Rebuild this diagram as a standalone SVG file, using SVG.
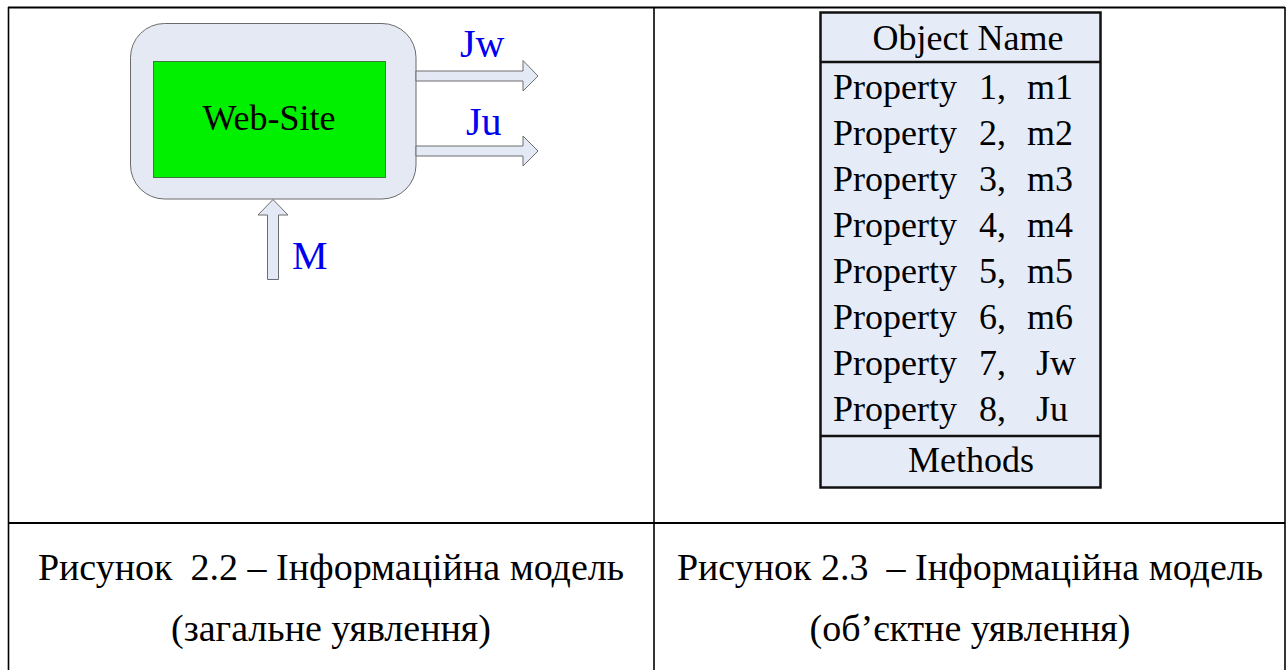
<svg xmlns="http://www.w3.org/2000/svg" width="1288" height="670" viewBox="0 0 1288 670">
<style>
.grid{stroke:#000;fill:none}
.t{font-family:"Liberation Serif","Times New Roman",serif}
.blue{fill:#0000f0;font-size:40px}
.prop{font-size:36px;fill:#000}
.cap{font-size:38px;fill:#000;text-anchor:middle}
.arrow{fill:#e4eaf5;stroke:#6d6d6d;stroke-width:1}
</style>
<rect width="1288" height="670" fill="#fff"/>
<g id="table">
<line class="grid" x1="8" y1="7.5" x2="1285" y2="7.5" stroke-width="2"/>
<line class="grid" x1="8.5" y1="7" x2="8.5" y2="670" stroke-width="1.6"/>
<line class="grid" x1="654" y1="7" x2="654" y2="670" stroke-width="1.6"/>
<line class="grid" x1="1285" y1="7" x2="1285" y2="670" stroke-width="1.6"/>
<line class="grid" x1="8" y1="523" x2="1285" y2="523" stroke-width="2"/>
</g>
<g id="website">
<rect x="130.5" y="23.5" width="285.5" height="175.5" rx="34" ry="34" fill="#e4e9f4" stroke="#6b6b6b" stroke-width="1"/>
<rect x="153.5" y="61.5" width="232" height="116" fill="#00f000" stroke="#3d7a3d" stroke-width="1"/>
<text class="t" x="269" y="130" font-size="36" text-anchor="middle" fill="#000">Web-Site</text>
</g>
<g id="connectors">
<polygon class="arrow" points="416,71 523,71 523,60.5 538,76 523,91 523,81 416,81"/>
<polygon class="arrow" points="416,146 523,146 523,136 538,151 523,166 523,156 416,156"/>
<polygon class="arrow" points="267.5,279.5 267.5,215 258,215 273,199.5 288,215 278.5,215 278.5,279.5"/>
</g>
<g id="labels">
<text class="t blue" x="460" y="57">Jw</text>
<text class="t blue" x="466" y="135">Ju</text>
<text class="t blue" x="292" y="269">M</text>
</g>
<g id="object">
<rect x="820.5" y="12.5" width="280" height="475" fill="#e6ecf7" stroke="#111" stroke-width="2.5"/>
<line x1="820.5" y1="62" x2="1100.5" y2="62" stroke="#111" stroke-width="2.5"/>
<line x1="820.5" y1="436" x2="1100.5" y2="436" stroke="#111" stroke-width="2.5"/>
<text class="t prop" x="968" y="50" text-anchor="middle">Object Name</text>
<text class="t prop" y="99"><tspan x="833">Property</tspan><tspan x="979">1,</tspan><tspan x="1027">m1</tspan></text>
<text class="t prop" y="145"><tspan x="833">Property</tspan><tspan x="979">2,</tspan><tspan x="1027">m2</tspan></text>
<text class="t prop" y="191"><tspan x="833">Property</tspan><tspan x="979">3,</tspan><tspan x="1027">m3</tspan></text>
<text class="t prop" y="237"><tspan x="833">Property</tspan><tspan x="979">4,</tspan><tspan x="1027">m4</tspan></text>
<text class="t prop" y="283"><tspan x="833">Property</tspan><tspan x="979">5,</tspan><tspan x="1027">m5</tspan></text>
<text class="t prop" y="329"><tspan x="833">Property</tspan><tspan x="979">6,</tspan><tspan x="1027">m6</tspan></text>
<text class="t prop" y="375"><tspan x="833">Property</tspan><tspan x="979">7,</tspan><tspan x="1036">Jw</tspan></text>
<text class="t prop" y="421"><tspan x="833">Property</tspan><tspan x="979">8,</tspan><tspan x="1036">Ju</tspan></text>
<text class="t prop" x="971" y="472" text-anchor="middle">Methods</text>
</g>
<g id="captions">
<text class="t cap" x="331" y="580"><tspan>Рисунок</tspan><tspan dx="18">2.2 – Інформаційна модель</tspan></text>
<text class="t cap" x="331" y="641">(загальне уявлення)</text>
<text class="t cap" x="970" y="580"><tspan>Рисунок 2.3</tspan><tspan dx="18">– Інформаційна модель</tspan></text>
<text class="t cap" x="970" y="641">(об’єктне уявлення)</text>
</g>
</svg>
